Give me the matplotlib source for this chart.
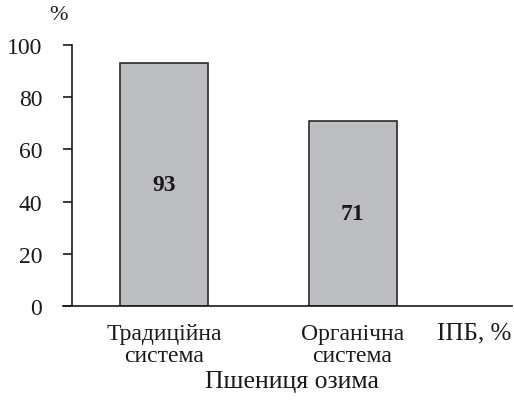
import numpy as np
import matplotlib
matplotlib.use("Agg")
from matplotlib import pyplot as plt

plt.rcParams['font.family'] = ['Liberation Serif', 'DejaVu Serif']

categories = ["Традиційна\nсистема", "Органічна\nсистема"]
values = [93, 71]
yticks = [0, 20, 40, 60, 80, 100]

fig = plt.figure(figsize=(5.14, 4.06), dpi=100)
ax = fig.add_axes([63 / 514, 99 / 406, 449 / 514, 261 / 406])

x = np.arange(len(values))
ax.bar(x, values, width=0.467, color="#bdbec2", edgecolor="#2a2a2a", linewidth=1.2, zorder=2)

for xi, v in zip(x, values):
    ax.text(xi, v / 2, str(v), ha="center", va="center", fontsize=17, fontweight="bold", color="#1a1a1a")

ax.set_xlim(-0.536, 1.846)
ax.set_ylim(0, 100)

for s in ["top", "right"]:
    ax.spines[s].set_visible(False)
ax.spines["left"].set_position(("axes", 9 / 449))
ax.spines["left"].set_linewidth(1.2)
ax.spines["bottom"].set_linewidth(1.2)
ax.spines["left"].set_color("#1a1a1a")
ax.spines["bottom"].set_color("#1a1a1a")

ax.set_yticks(yticks)
ax.set_yticklabels([str(t) for t in yticks])
ax.tick_params(axis="y", direction="out", length=6.5, width=1.2, pad=15, labelsize=17, colors="#1a1a1a")
ax.set_xticks(x)
ax.set_xticklabels(categories, fontsize=17, linespacing=1.1)
ax.tick_params(axis="x", length=0, pad=12, colors="#1a1a1a")

fig.text(437 / 514, 1 - 333 / 406, "ІПБ, %", fontsize=18, ha="left", va="center", color="#1a1a1a")
fig.text(292 / 514, 1 - 382 / 406, "Пшениця озима", fontsize=18.5, ha="center", va="center", color="#1a1a1a")
fig.text(59 / 514, 1 - 16 / 406, "%", fontsize=16, ha="center", va="center", color="#1a1a1a")

fig.savefig("out.png", dpi=100)
